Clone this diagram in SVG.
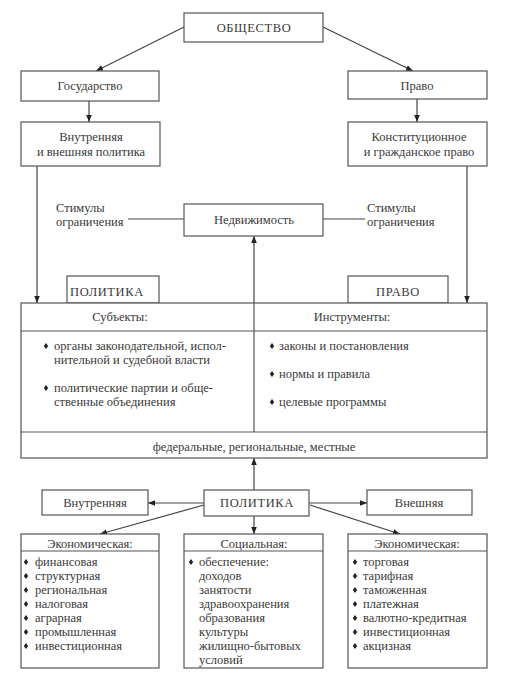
<svg xmlns="http://www.w3.org/2000/svg" width="524" height="692" viewBox="0 0 524 692">
<style>
rect{fill:#fff;stroke:#555;stroke-width:1.2}
line,polyline{stroke:#444;stroke-width:1.2;fill:none}
text{font-family:"Liberation Serif","Times New Roman",serif;font-size:12.5px;fill:#3a3a3a}
.m{text-anchor:middle}
.u{letter-spacing:0.6px}
</style>
<defs>
<marker id="a" viewBox="0 0 10 10" refX="10" refY="5" markerWidth="7" markerHeight="7" orient="auto-start-reverse" markerUnits="userSpaceOnUse">
<path d="M0,1 L10,5 L0,9 z" fill="#222"/>
</marker>
<path id="d" d="M0,-3 L2.2,0 L0,3 L-2.2,0 z" fill="#222"/>
</defs>
<rect x="0" y="0" width="524" height="692" style="stroke:none"/>
<g id="connectors">
<line x1="184" y1="27" x2="96" y2="71" marker-end="url(#a)"/>
<line x1="323" y1="27" x2="413" y2="71" marker-end="url(#a)"/>
<line x1="89" y1="101" x2="89" y2="122" marker-end="url(#a)"/>
<line x1="417" y1="99" x2="417" y2="122" marker-end="url(#a)"/>
<line x1="37" y1="166" x2="37" y2="303" marker-end="url(#a)"/>
<line x1="467" y1="166" x2="467" y2="303" marker-end="url(#a)"/>
<line x1="128" y1="219" x2="184" y2="219"/>
<line x1="323" y1="219" x2="365" y2="219"/>
<line x1="254" y1="303" x2="254" y2="236" marker-end="url(#a)"/>
<line x1="254" y1="490" x2="254" y2="458" marker-end="url(#a)"/>
<line x1="204" y1="503" x2="148" y2="503" marker-end="url(#a)"/>
<line x1="309" y1="503" x2="367" y2="503" marker-end="url(#a)"/>
<line x1="204" y1="505" x2="100" y2="534" marker-end="url(#a)"/>
<line x1="254" y1="516" x2="254" y2="534" marker-end="url(#a)"/>
<line x1="310" y1="505" x2="400" y2="534" marker-end="url(#a)"/>
</g>
<g id="obshchestvo"><rect x="184" y="13" width="139" height="29"/><text class="m u" x="254" y="32">ОБЩЕСТВО</text></g>
<g id="gosudarstvo"><rect x="21" y="71" width="138" height="30"/><text class="m" x="90" y="90">Государство</text></g>
<g id="pravo"><rect x="348" y="71" width="139" height="28"/><text class="m" x="417" y="90">Право</text></g>
<g id="vnutr-vnesh"><rect x="21" y="122" width="139" height="44"/><text class="m" x="91" y="141">Внутренняя</text><text class="m" x="91" y="156">и внешняя политика</text></g>
<g id="konstit"><rect x="348" y="122" width="139" height="44"/><text class="m" x="419" y="141">Конституционное</text><text class="m" x="419" y="156">и гражданское право</text></g>
<g id="stimuly-l"><text x="56" y="212">Стимулы</text><text x="56" y="226">ограничения</text></g>
<g id="stimuly-r"><text x="367" y="212">Стимулы</text><text x="367" y="226">ограничения</text></g>
<g id="nedvizh"><rect x="184" y="204" width="139" height="32"/><text class="m" x="254" y="224">Недвижимость</text></g>
<g id="politika-tab"><rect x="67" y="276" width="92" height="27"/><text class="u" x="70" y="296">ПОЛИТИКА</text></g>
<g id="pravo-tab"><rect x="348" y="276" width="100" height="27"/><text class="m u" x="398" y="296">ПРАВО</text></g>
<g id="main">
<rect x="21" y="303" width="466" height="155"/>
<line x1="21" y1="331" x2="487" y2="331" style="stroke:#555"/>
<line x1="21" y1="432" x2="487" y2="432" style="stroke:#555"/>
<line x1="254" y1="303" x2="254" y2="432" style="stroke:#555"/>
<text class="m" x="120" y="321">Субъекты:</text>
<text class="m" x="352" y="321">Инструменты:</text>
<use href="#d" x="46" y="346"/><text x="54" y="350">органы законодательной, испол-</text>
<text x="54" y="364">нительной и судебной власти</text>
<use href="#d" x="46" y="388"/><text x="54" y="392">политические партии и обще-</text>
<text x="54" y="406">ственные объединения</text>
<use href="#d" x="272" y="346"/><text x="279" y="350">законы и постановления</text>
<use href="#d" x="272" y="374"/><text x="279" y="378">нормы и правила</text>
<use href="#d" x="272" y="402"/><text x="279" y="406">целевые программы</text>
<text class="m" x="254" y="451">федеральные, региональные, местные</text>
</g>
<g id="vnutrennyaya"><rect x="42" y="490" width="106" height="25"/><text class="m" x="95" y="507">Внутренняя</text></g>
<g id="politika"><rect x="204" y="490" width="105" height="26"/><text class="m u" x="257" y="507">ПОЛИТИКА</text></g>
<g id="vneshnyaya"><rect x="367" y="490" width="105" height="25"/><text class="m" x="419" y="507">Внешняя</text></g>
<g id="econ-l">
<rect x="21" y="534" width="138" height="134"/>
<line x1="21" y1="551" x2="159" y2="551" style="stroke:#555"/>
<text class="m" x="90" y="548">Экономическая:</text>
<use href="#d" x="26" y="562"/><text x="35" y="566">финансовая</text>
<use href="#d" x="26" y="576"/><text x="35" y="580">структурная</text>
<use href="#d" x="26" y="590"/><text x="35" y="594">региональная</text>
<use href="#d" x="26" y="604"/><text x="35" y="608">налоговая</text>
<use href="#d" x="26" y="618"/><text x="35" y="622">аграрная</text>
<use href="#d" x="26" y="632"/><text x="35" y="636">промышленная</text>
<use href="#d" x="26" y="646"/><text x="35" y="650">инвестиционная</text>
</g>
<g id="social">
<rect x="184" y="534" width="139" height="134"/>
<line x1="184" y1="551" x2="323" y2="551" style="stroke:#555"/>
<text class="m" x="254" y="548">Социальная:</text>
<use href="#d" x="191" y="562"/><text x="199" y="566">обеспечение:</text>
<text x="199" y="580">доходов</text>
<text x="199" y="594">занятости</text>
<text x="199" y="608">здравоохранения</text>
<text x="199" y="622">образования</text>
<text x="199" y="636">культуры</text>
<text x="199" y="650">жилищно-бытовых</text>
<text x="199" y="664">условий</text>
</g>
<g id="econ-r">
<rect x="348" y="534" width="139" height="134"/>
<line x1="348" y1="551" x2="487" y2="551" style="stroke:#555"/>
<text class="m" x="417" y="548">Экономическая:</text>
<use href="#d" x="355" y="562"/><text x="363" y="566">торговая</text>
<use href="#d" x="355" y="576"/><text x="363" y="580">тарифная</text>
<use href="#d" x="355" y="590"/><text x="363" y="594">таможенная</text>
<use href="#d" x="355" y="604"/><text x="363" y="608">платежная</text>
<use href="#d" x="355" y="618"/><text x="363" y="622">валютно-кредитная</text>
<use href="#d" x="355" y="632"/><text x="363" y="636">инвестиционная</text>
<use href="#d" x="355" y="646"/><text x="363" y="650">акцизная</text>
</g>
</svg>
